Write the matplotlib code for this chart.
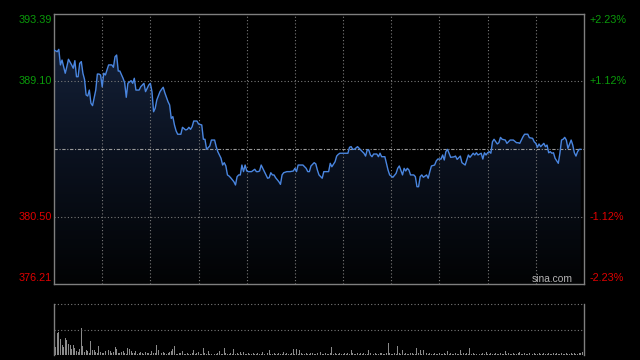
import matplotlib
matplotlib.use("Agg")
import matplotlib.pyplot as plt
import numpy as np
from matplotlib.colors import LinearSegmentedColormap

# ---- data -------------------------------------------------------------
# trading minutes since the open (HK session, 330 minutes)
minutes = [0, 2, 3, 4, 5, 6, 7, 8, 9, 11, 12, 13, 14, 15, 16, 17, 18, 19, 20, 21,
           22, 23, 24, 26, 27, 28, 29, 30, 31, 32, 33, 34, 36, 37, 38, 39, 40, 41, 43, 44,
           45, 46, 48, 49, 50, 51, 53, 54, 55, 56, 57, 59, 60, 61, 62, 63, 64, 66, 67, 68,
           69, 71, 72, 73, 74, 75, 76, 77, 79, 80, 82, 83,
           84, 85, 86, 87, 89, 90, 92, 93, 94, 95, 97, 98, 100, 101, 102, 104, 105, 106,
           107, 108, 109, 110, 112, 113, 114, 115, 116, 117, 118, 119, 120, 121, 123, 125,
           126, 127, 128, 129, 131, 132, 133, 134, 135, 136, 137, 138, 140, 141, 142, 143,
           145, 147, 149, 150, 151, 152, 153, 155, 157, 158, 159, 160, 162, 163, 164, 165, 167,
           168, 170, 171, 172, 173, 175, 176, 177, 178, 181, 183, 184, 185, 186, 187, 189,
           190, 192, 193, 194, 195, 196, 197, 198, 199, 201, 202, 203, 204, 206, 207, 208,
           209, 211, 213, 214, 215, 217, 218, 219, 220, 221, 222, 224, 225, 226, 227, 228,
           229, 230, 232, 233, 234, 235, 237, 238, 239, 241, 242, 243, 244, 245, 246, 247,
           249, 250, 251, 253, 254, 256, 257, 258, 259, 261, 262, 263, 264, 266, 267, 268,
           269, 270, 271, 272, 273, 274, 276, 277, 278, 279, 281, 282, 284, 285, 286, 288,
           289, 290, 292, 293, 295, 296, 298, 299, 300, 301, 302, 303, 305, 306, 307, 308,
           309, 310, 311, 312, 314, 315, 316, 317, 318, 319, 320, 322, 323, 324, 325, 326,
           327, 328]

prices = [391.10, 390.99, 391.14, 390.15, 390.46, 390.04, 389.62, 390.04, 390.51, 390.15,
          389.94, 390.42, 389.40, 389.40, 390.25, 390.36, 389.62, 389.23, 388.24, 388.17,
          388.55, 387.71, 387.56, 388.55, 389.57, 389.57, 389.51, 388.76, 389.62, 389.51,
          389.83, 390.15, 390.15, 390.00, 390.67, 390.78, 389.76, 389.76, 389.30, 389.02,
          388.09, 388.98, 389.15, 388.98, 389.30, 388.55, 388.55, 388.76, 388.87, 388.98,
          388.45, 388.87, 388.98, 388.45, 387.17, 387.39, 387.92, 388.45, 388.60, 388.73,
          388.38, 387.81, 387.60, 386.75, 386.86, 386.33, 385.96, 385.74, 385.74, 386.18,
          386.01, 386.05,
          386.18, 386.05, 386.22, 386.58, 386.58, 386.39, 386.33, 385.42, 385.42, 384.78,
          384.99, 385.37, 385.37, 384.95, 384.63, 384.21, 383.78, 383.93, 383.72, 383.15,
          383.08, 382.97, 382.72, 382.51, 383.04, 383.15, 383.15, 383.78, 383.36, 383.78,
          383.40, 383.36, 383.36, 383.51, 383.36, 383.36, 383.40, 383.78, 383.36, 383.15,
          382.94, 382.97, 383.29, 383.15, 383.15, 382.97, 382.72, 382.55, 383.15, 383.29,
          383.36, 383.36, 383.40, 383.57, 383.36, 383.78, 383.78, 383.78, 383.57, 383.36,
          383.36, 383.72, 383.93, 383.85, 383.46, 383.15, 382.94,
          383.36, 383.36, 383.36, 383.89, 383.67, 383.99, 384.35, 384.46, 384.53, 384.53,
          384.53, 384.91, 384.95, 384.78, 384.78, 384.95, 384.84, 384.63, 384.53, 384.35,
          384.74, 384.74, 384.42, 384.31, 384.48, 384.48, 384.31, 384.53, 384.31, 384.31,
          383.89, 383.46, 383.15, 383.00, 383.25, 383.57, 383.72, 383.15, 383.57, 383.40,
          383.57, 383.46, 383.15, 383.15, 383.04, 382.40, 382.40, 383.04, 383.15, 383.00,
          383.15, 382.94, 383.36, 383.72, 383.78, 384.04, 384.16, 384.16, 384.42, 384.10,
          384.63, 384.78, 384.53, 384.27,
          384.30, 384.35, 384.14, 384.35, 383.93, 383.78, 384.10, 384.42, 384.27, 384.53,
          384.42, 384.56, 384.42, 384.53, 384.16, 384.56, 384.42, 384.56, 384.63, 384.53,
          385.26, 385.42, 385.12, 385.20, 385.54, 385.42, 385.37, 385.16, 385.37, 385.37,
          385.37, 385.20, 385.20, 385.16, 385.58, 385.74, 385.74, 385.52, 385.48, 385.26,
          385.16, 384.91, 385.12, 384.95, 385.16, 384.95, 385.05, 384.56, 384.63, 384.53,
          384.56, 384.21, 383.89, 384.53, 385.37, 385.42, 385.54, 385.37, 384.84, 385.37,
          385.05, 384.56, 384.35, 384.63, 384.78, 384.78]

prev_close = 384.80
price_labels = ["393.39", "389.10", "380.50", "376.21"]
price_levels = [393.39, 389.10, 380.50, 376.21]
pct_labels = ["+2.23%", "+1.12%", "-1.12%", "-2.23%"]

# per-minute volume (thousand shares), minute 0..329
volume = [400, 60, 175, 183, 123, 78, 65, 136, 118, 86,
          78, 45, 78, 53, 31, 20, 45, 212, 71, 25,
          39, 34, 18, 110, 39, 39, 26, 15, 71, 22,
          16, 12, 31, 20, 39, 31, 14, 22, 65, 45,
          18, 12, 20, 31, 15, 10, 57, 47, 31, 12,
          16, 31, 10, 14, 20, 12, 10, 26, 12, 16,
          10, 31, 14, 12, 78, 39, 10, 14, 21, 12,
          8, 14, 26, 31, 45, 71, 10, 8, 12, 14,
          31, 10, 8, 12, 10, 8, 14, 39, 10, 12,
          26, 8, 10, 53, 12, 8, 31, 10, 8, 12,
          10, 8, 12, 31, 10, 8, 53, 12, 10, 8,
          14, 10, 45, 8, 12, 10, 26, 8, 21, 10,
          8, 12, 10, 8, 14, 10, 8, 12, 10, 8,
          21, 10, 8, 12, 39, 8, 10, 12, 8, 10,
          12, 8, 10, 21, 8, 12, 10, 8, 14, 45,
          10, 47, 8, 39, 12, 8, 10, 14, 8, 10,
          12, 16, 8, 10, 12, 8, 24, 10, 8, 12,
          10, 8, 14, 65, 10, 12, 8, 10, 14, 8,
          10, 12, 8, 14, 10, 37, 12, 8, 10, 12,
          8, 14, 10, 12, 8, 10, 39, 12, 8, 10,
          12, 8, 10, 14, 12, 8, 10, 12, 96, 14,
          10, 8, 12, 10, 71, 14, 10, 39, 8, 12,
          10, 8, 14, 12, 10, 8, 53, 12, 39, 10,
          39, 8, 12, 10, 14, 8, 10, 12, 8, 10,
          12, 8, 10, 14, 8, 31, 10, 12, 8, 10,
          12, 8, 10, 39, 8, 12, 10, 14, 8, 53,
          10, 12, 8, 10, 14, 8, 10, 12, 8, 21,
          10, 8, 12, 10, 8, 14, 10, 8, 12, 10,
          8, 31, 10, 12, 8, 10, 14, 8, 10, 12,
          26, 8, 10, 12, 8, 10, 14, 8, 10, 12,
          8, 10, 12, 8, 10, 14, 8, 10, 12, 8,
          10, 12, 8, 14, 10, 8, 12, 10, 8, 14,
          10, 8, 12, 10, 14, 8, 10, 12, 16, 20]

# ---- figure -----------------------------------------------------------
W, H = 640, 360
fig = plt.figure(figsize=(6.4, 3.6), dpi=100, facecolor="black")
font = ["Liberation Sans", "DejaVu Sans"]
GRID = "#7a7a7a"
SPINE = "#7f7f7f"
GREEN = "#0a9a0a"
RED = "#e00000"

ax = fig.add_axes([54 / W, (H - 284) / H, 530 / W, 270 / H])
ax.set_facecolor("black")
ax.set_xlim(0, 330)
ax.set_ylim(price_levels[-1], price_levels[0])
ax.set_xticks([])
ax.set_yticks([])
for s in ax.spines.values():
    s.set_color(SPINE)
    s.set_linewidth(1.0)

dots = (0, (1, 2))
for m in range(30, 330, 30):
    ax.axvline(m, color=GRID, lw=0.8, ls=dots, zorder=2)
for v in price_levels[1:3]:
    ax.axhline(v, color=GRID, lw=0.8, ls=dots, zorder=2)
ax.axhline(prev_close, color="#9a9a9a", lw=0.8, ls=(0, (3, 1.5, 1, 1.5)), zorder=4)

# gradient area under the line
cmap = LinearSegmentedColormap.from_list("g", ["#020304", "#0b1220", "#17253f"])
grad = np.linspace(0, 1, 256).reshape(-1, 1)
im = ax.imshow(grad, extent=[0, 330, price_levels[-1], price_levels[0]],
               origin="lower", aspect="auto", cmap=cmap, zorder=1,
               interpolation="bilinear")
poly = ax.fill_between(minutes, prices, price_levels[-1],
                       facecolor="none", edgecolor="none")
im.set_clip_path(poly.get_paths()[0], transform=ax.transData)

ax.plot(minutes, prices, color="#4a86e0", lw=1.0, zorder=5, solid_joinstyle="round")

# axis labels
offsets = [-6.0, 0.0, 0.0, 6.3]
for lvl, txt, pct, off, col in zip(price_levels, price_labels, pct_labels, offsets,
                                   [GREEN, GREEN, RED, RED]):
    ax.annotate(txt, xy=(0, lvl), xycoords=("axes fraction", "data"),
                xytext=(-2.0 * 0.72, off * 0.72), textcoords="offset points",
                ha="right", va="center", color=col, fontsize=7.8, family=font)
    ax.annotate(pct, xy=(1, lvl), xycoords=("axes fraction", "data"),
                xytext=(5.5 * 0.72, off * 0.72), textcoords="offset points",
                ha="left", va="center", color=col, fontsize=7.8, family=font)

ax.text((572.7 - 54) / 530, (284 - 279.3) / 270, "sina.com", transform=ax.transAxes,
        ha="right", va="center", color="#b4b4b4", fontsize=7.4, family=font, zorder=6)

# volume panel
axv = fig.add_axes([54 / W, (H - 355) / H, 530 / W, 51 / H])
axv.set_facecolor("black")
axv.set_xlim(0, 330)
axv.set_ylim(0, 400)
axv.set_xticks([])
axv.set_yticks([])
for name, s in axv.spines.items():
    s.set_color(SPINE)
    s.set_linewidth(1.0)
    if name in ("top", "bottom"):
        s.set_visible(False)
for v in (200, 400):
    axv.axhline(v, color=GRID, lw=0.8, ls=dots, clip_on=False)
axv.bar(np.arange(len(volume)), volume, width=0.6, color="#8a8a8a", linewidth=0)

fig.savefig("out.png", dpi=100, facecolor="black")
